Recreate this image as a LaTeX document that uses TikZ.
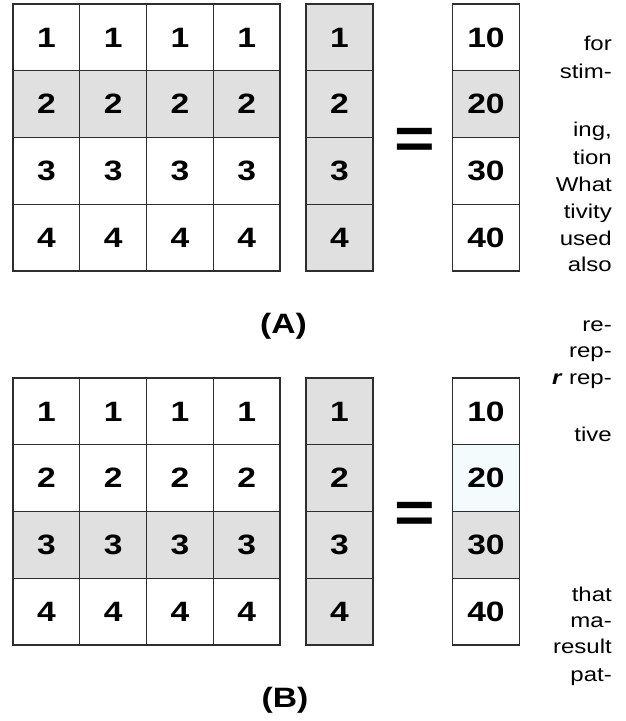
\documentclass[tikz,border=0pt]{standalone}
\usepackage{fontspec}
\setmainfont[FakeStretch=1.2]{Liberation Sans}
\usepackage{tikz}
\usepackage{xcolor}

\definecolor{cellgray}{HTML}{E0E0E0}
\definecolor{celltint}{HTML}{F3FBFD}
\definecolor{gridline}{HTML}{2E2E2E}

\tikzset{
    cellbox/.style={
        draw=gridline,
        line width=1.4pt,
        minimum width=66.75pt,
        minimum height=66.75pt,
        inner sep=0pt,
        font=\fontsize{28}{30}\selectfont\bfseries
    },
    eqsign/.style={anchor=base, inner sep=0pt, font=\fontsize{58}{58}\selectfont\bfseries},
    captiontxt/.style={inner sep=0pt, font=\fontsize{28}{30}\selectfont\bfseries},
    sidetxt/.style={anchor=east, inner sep=0pt, text height=14pt, text depth=4pt,
        font=\fontsize{20}{22}\selectfont}
}

\begin{document}
\begin{tikzpicture}[x=1pt, y=-1pt]

\useasboundingbox (0,0) rectangle (626,721);

% panel A
\foreach \r/\f in {1/white,2/cellgray,3/white,4/white}{
    \foreach \c in {1,...,4}{
        \node[cellbox, fill=\f] (a\r\c) at ({13+66.75*(\c-0.5)}, {4+66.75*(\r-0.5)}) {\r};
    }
    \node[cellbox, fill=cellgray] (va\r) at (339.5, {4+66.75*(\r-0.5)}) {\r};
}
\foreach \r/\v/\f in {1/10/white,2/20/cellgray,3/30/white,4/40/white}{
    \node[cellbox, fill=\f] (ra\r) at (486, {4+66.75*(\r-0.5)}) {\v};
}
\node[eqsign] (eqA) at (415, 158) {=};
\node[captiontxt] (capA) at (283.5, 326) {(A)};

% panel B
\foreach \r/\f in {1/white,2/white,3/cellgray,4/white}{
    \foreach \c in {1,...,4}{
        \node[cellbox, fill=\f] (b\r\c) at ({13+66.75*(\c-0.5)}, {378+66.75*(\r-0.5)}) {\r};
    }
    \node[cellbox, fill=cellgray] (vb\r) at (339.5, {378+66.75*(\r-0.5)}) {\r};
}
\foreach \r/\v/\f in {1/10/white,2/20/celltint,3/30/cellgray,4/40/white}{
    \node[cellbox, fill=\f] (rb\r) at (486, {378+66.75*(\r-0.5)}) {\v};
}
\node[eqsign] (eqB) at (415, 532) {=};
\node[captiontxt] (capB) at (285, 700) {(B)};

% cut-off text of the page column
\foreach \t/\y [count=\i] in {{for}/45, {stim-}/73, {ing,}/131, {tion}/159, {What}/186,
    {tivity}/213, {used}/240, {also}/266, {re-}/326, {rep-}/352,
    {\textbf{\textit{r}} rep-}/379, {tive}/436, {that}/596, {ma-}/622,
    {result}/648, {pat-}/676}{
    \node[sidetxt] (side\i) at (612, \y) {\t};
}

\end{tikzpicture}
\end{document}
